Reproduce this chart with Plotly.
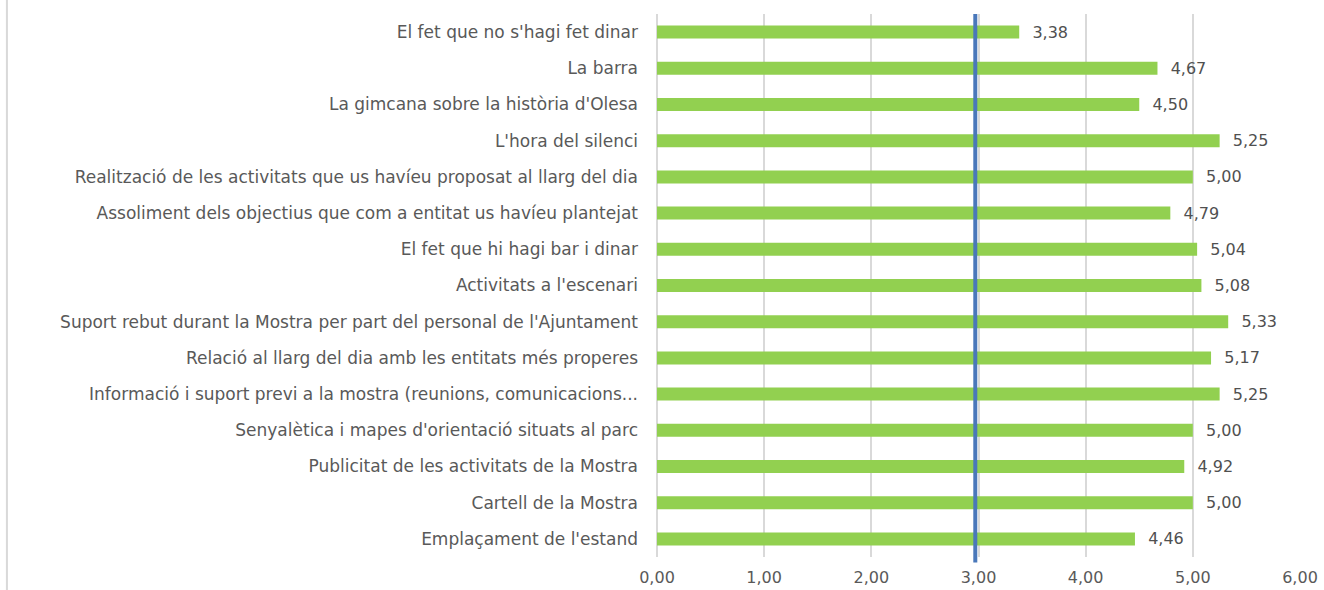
import plotly.graph_objects as go

# items, top to bottom as in the chart
items = [
    "El fet que no s'hagi fet dinar",
    "La barra",
    "La gimcana sobre la història d'Olesa",
    "L'hora del silenci",
    "Realització de les activitats que us havíeu proposat al llarg del dia",
    "Assoliment dels objectius que com a entitat us havíeu plantejat",
    "El fet que hi hagi bar i dinar",
    "Activitats a l'escenari",
    "Suport rebut durant la Mostra per part del personal de l'Ajuntament",
    "Relació al llarg del dia amb les entitats més properes",
    "Informació i suport previ a la mostra (reunions, comunicacions...",
    "Senyalètica i mapes d'orientació situats al parc",
    "Publicitat de les activitats de la Mostra",
    "Cartell de la Mostra",
    "Emplaçament de l'estand",
]
scores = [3.38, 4.67, 4.50, 5.25, 5.00, 4.79, 5.04, 5.08, 5.33, 5.17, 5.25, 5.00, 4.92, 5.00, 4.46]
ref_value = 2.97
x_ticks = [0, 1, 2, 3, 4, 5, 6]

FONT = "DejaVu Sans"
GRID = "#D9D9D9"

fig = go.Figure()
fig.add_trace(go.Bar(
    y=items, x=scores, orientation="h",
    marker=dict(color="#92D050", line=dict(width=0)),
    texttemplate="\u00a0\u00a0%{x:.2f}", textposition="outside",
    constraintext="none",
    textfont=dict(family=FONT, size=16, color="#505050"),
    cliponaxis=False,
))

# reference line
fig.add_shape(type="line", xref="x", yref="paper",
              x0=ref_value, x1=ref_value, y0=-0.01, y1=1.0,
              line=dict(color="#4A78BA", width=4), layer="above")
# left frame edge
fig.add_shape(type="line", xref="paper", yref="paper",
              x0=-1.011, x1=-1.011, y0=-0.07, y1=1.03,
              line=dict(color=GRID, width=2))

fig.update_layout(
    width=1324, height=590,
    margin=dict(l=657, r=24, t=14, b=33),
    plot_bgcolor="white", paper_bgcolor="white",
    separators=",.",
    bargap=0.64,
    showlegend=False,
    font=dict(family=FONT, size=16, color="#595959"),
)
fig.update_xaxes(range=[0, 6], tickvals=x_ticks, tickformat=".2f",
                 showgrid=True, gridcolor=GRID, gridwidth=2,
                 zeroline=True, zerolinecolor=GRID, zerolinewidth=2,
                 showline=False, ticks="", ticklabelstandoff=9,
                 automargin=False,
                 tickfont=dict(size=16, color="#595959"))
fig.update_yaxes(autorange="reversed", showgrid=False, showline=False,
                 ticks="", ticklabelstandoff=18, automargin=False,
                 tickfont=dict(size=17, color="#595959"))

# page body has a default 8px margin; drop it so the figure fills the window
fig.write_html("out.html", config={"displayModeBar": False},
               post_script="document.body.style.margin='0';")
